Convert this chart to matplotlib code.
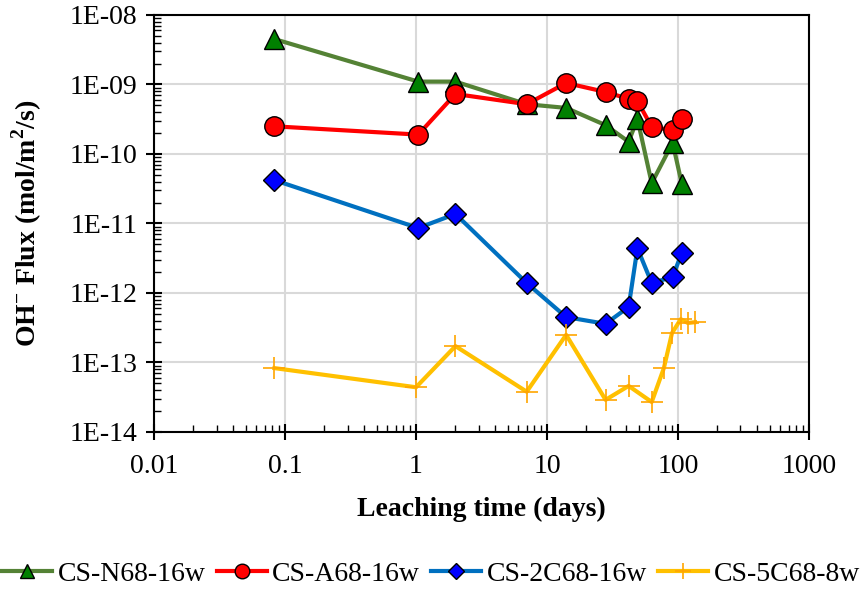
import numpy as np
import matplotlib
matplotlib.use("Agg")
import matplotlib.pyplot as plt
from matplotlib.ticker import LogLocator, FuncFormatter, NullFormatter

plt.rcParams['font.family'] = ['Liberation Serif', 'DejaVu Serif']
plt.rcParams['mathtext.fontset'] = 'custom'
plt.rcParams['mathtext.rm'] = 'Liberation Serif'
plt.rcParams['mathtext.bf'] = 'Liberation Serif:bold'

# CS-N68-16w
n68_days = [0.083, 1.04, 2.0, 7.0, 14, 28, 42, 49, 63, 91, 107]
n68_flux = [4.5e-9, 1.1e-9, 1.1e-9, 5.2e-10, 4.6e-10, 2.6e-10, 1.5e-10, 3.2e-10, 3.8e-11, 1.45e-10, 3.7e-11]

# CS-A68-16w
a68_days = [0.083, 1.04, 2.0, 7.0, 14, 28, 42, 49, 63, 91, 107]
a68_flux = [2.5e-10, 1.9e-10, 7.3e-10, 5.2e-10, 1.05e-9, 7.8e-10, 6.2e-10, 5.8e-10, 2.45e-10, 2.2e-10, 3.2e-10]

# CS-2C68-16w
c2_days = [0.083, 1.04, 2.0, 7.0, 14, 28, 42, 49, 63, 91, 107]
c2_flux = [4.2e-11, 8.6e-12, 1.37e-11, 1.39e-12, 4.5e-13, 3.6e-13, 6.3e-13, 4.4e-12, 1.39e-12, 1.7e-12, 3.8e-12]

# CS-5C68-8w
c5_days = [0.083, 1.0, 2.0, 7.0, 14, 28, 42, 63, 78, 90, 105, 119, 135]
c5_flux = [8.3e-14, 4.4e-14, 1.72e-13, 3.8e-14, 2.5e-13, 2.9e-14, 4.6e-14, 2.7e-14, 8.3e-14, 2.65e-13, 4.2e-13, 3.7e-13, 3.8e-13]

fig = plt.figure(figsize=(8.62, 5.92), dpi=100)
ax = fig.add_axes([0.1787, 0.2703, 0.7598, 0.7044])

ax.plot(n68_days, n68_flux, color='#548235', lw=3, marker='^', ms=14,
        mfc='#008000', mec='black', mew=1, label='CS-N68-16w', zorder=3)
ax.plot(a68_days, a68_flux, color='#FF0000', lw=3, marker='o', ms=14,
        mfc='#FF0000', mec='black', mew=1, label='CS-A68-16w', zorder=4)
ax.plot(c2_days, c2_flux, color='#0070C0', lw=3, marker='D', ms=11,
        mfc='#0000FF', mec='black', mew=1, label='CS-2C68-16w', zorder=3)
ax.plot(c5_days, c5_flux, color='#FFC000', lw=3, marker='+', ms=16,
        mec='#FFA500', mew=1.2, label='CS-5C68-8w', zorder=3)

ax.set_xscale('log')
ax.set_yscale('log')
ax.set_xlim(0.01, 1000)
ax.set_ylim(1e-14, 1e-8)

ax.xaxis.set_major_locator(LogLocator(base=10, numticks=10))
ax.xaxis.set_minor_locator(LogLocator(base=10, subs=np.arange(2, 10), numticks=20))
ax.yaxis.set_major_locator(LogLocator(base=10, numticks=10))
ax.yaxis.set_minor_locator(LogLocator(base=10, subs=np.arange(2, 10), numticks=20))
ax.xaxis.set_minor_formatter(NullFormatter())
ax.yaxis.set_minor_formatter(NullFormatter())
ax.xaxis.set_major_formatter(FuncFormatter(lambda v, p: f"{v:g}"))
ax.yaxis.set_major_formatter(FuncFormatter(lambda v, p: f"1E{int(round(np.log10(v))):03d}"))

ax.grid(True, which='major', color='#D9D9D9', lw=1.5)
ax.set_axisbelow(True)
for s in ax.spines.values():
    s.set_linewidth(1.5)
    s.set_color('black')

ax.tick_params(which='major', direction='inout', length=12, width=1.5, labelsize=20)
ax.tick_params(which='minor', direction='in', length=5, width=1)
ax.tick_params(axis='x', which='major', pad=10)
ax.tick_params(axis='y', which='major', pad=6)

ax.set_xlabel('Leaching time (days)', fontsize=20, fontweight='bold', labelpad=13)
ax.set_ylabel(r'OH$^{\mathbf{-}}$ Flux (mol/m$^{\mathbf{2}}$/s)', fontsize=20,
              fontweight='bold', labelpad=18)

fig.legend(loc='center', bbox_to_anchor=(0.5, 0.03), ncol=4, frameon=False,
           fontsize=20, markerscale=0.75, handlelength=1.8, handletextpad=0.2,
           columnspacing=0.4)

fig.savefig('out.png', dpi=100)
